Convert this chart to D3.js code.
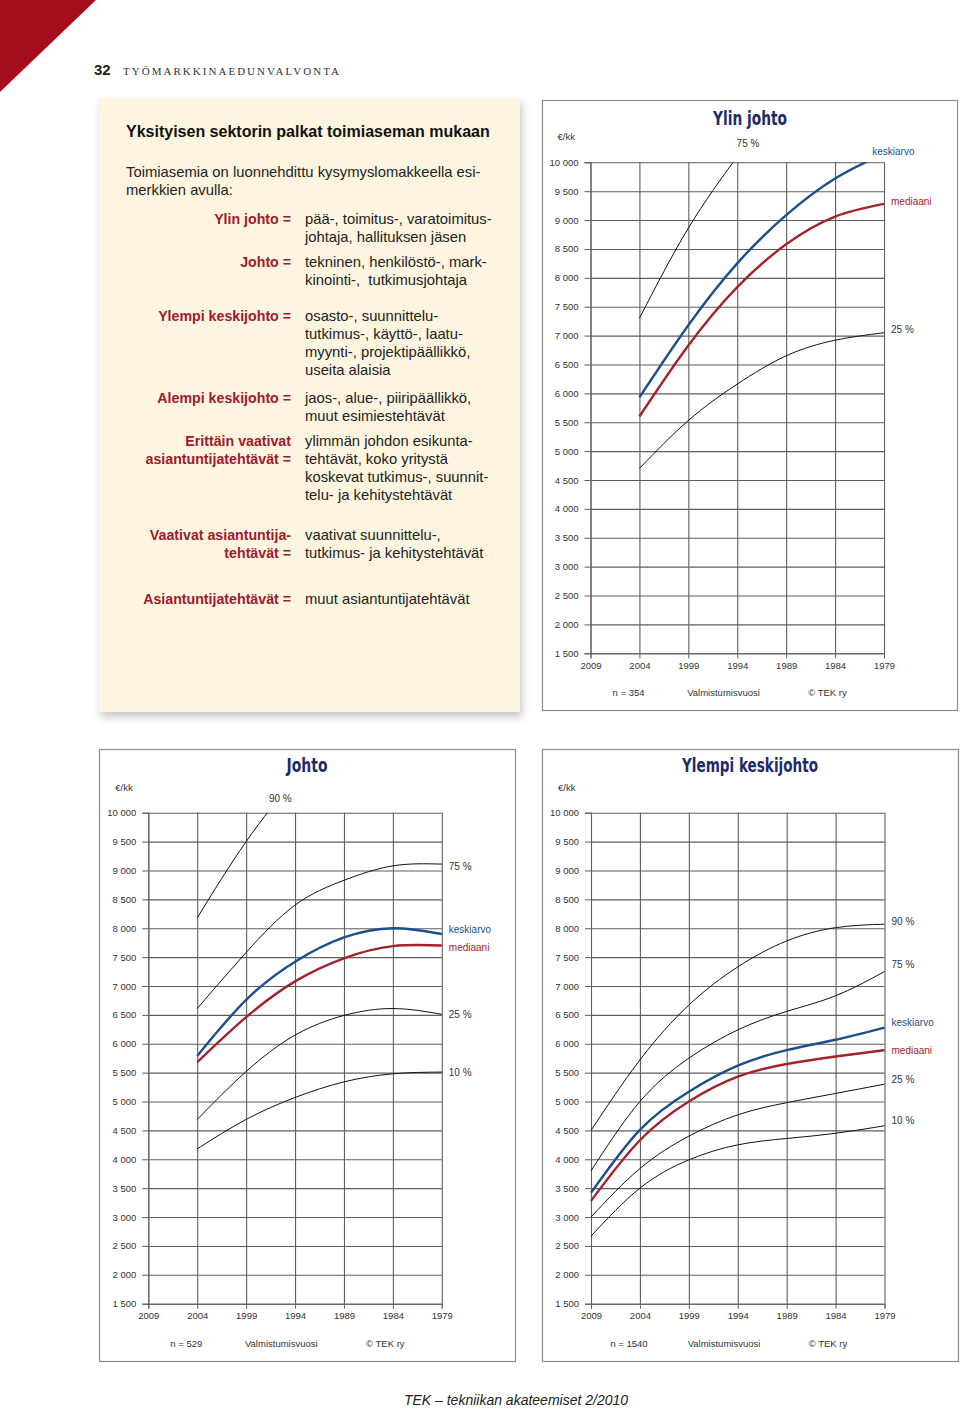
<!DOCTYPE html>
<html>
<head>
<meta charset="utf-8">
<script src="https://cdn.jsdelivr.net/npm/d3@7"></script>
<style>
  body { margin: 0; background: #fff; }
  svg { display: block; }
</style>
</head>
<body>
<script>
// ---- data ----
var years = [2009, 2004, 1999, 1994, 1989, 1984, 1979];
var yTicks = d3.range(1500, 10001, 500);

// Ylin johto, n = 354
var ylinP75 = [null, 7300, 8860, 10100, null, null, null];
var ylinKa  = [null, 5930, 7180, 8250, 9085, 9720, 10150];
var ylinMed = [null, 5600, 6830, 7840, 8580, 9060, 9280];
var ylinP25 = [null, 4700, 5530, 6160, 6650, 6920, 7050];

// Johto, n = 529
var johtoP90 = [null, 8180, 9500, 10600, null, null, null];
var johtoP75 = [null, 6610, 7580, 8400, 8830, 9080, 9110];
var johtoKa  = [null, 5790, 6760, 7420, 7840, 8000, 7900];
var johtoMed = [null, 5680, 6460, 7080, 7480, 7690, 7700];
var johtoP25 = [null, 4690, 5520, 6150, 6490, 6610, 6510];
var johtoP10 = [null, 4180, 4690, 5070, 5340, 5480, 5510];

// Ylempi keskijohto, n = 1540
var ykjP90 = [4500, 5720, 6670, 7330, 7780, 8010, 8070];
var ykjP75 = [3800, 5000, 5750, 6240, 6560, 6830, 7250];
var ykjKa  = [3420, 4510, 5170, 5620, 5890, 6070, 6280];
var ykjMed = [3280, 4330, 5000, 5430, 5650, 5780, 5890];
var ykjP25 = [3000, 3840, 4400, 4770, 4980, 5140, 5300];
var ykjP10 = [2670, 3500, 3990, 4250, 4360, 4450, 4580];

// label anchors [text, year, value]; year null = right of the plot
var ylinLabels = [["75 %", 1992.9, 10257], ["keskiarvo", 1980.2, 10135],
                  ["mediaani", null, 9267], ["25 %", null, 7045]];
var johtoLabels = [["90 %", 1995.5, 10177], ["75 %", null, 9000], ["keskiarvo", null, 7909],
                   ["mediaani", null, 7597], ["25 %", null, 6454], ["10 %", null, 5433]];
var ykjLabels = [["90 %", null, 8064], ["75 %", null, 7308], ["keskiarvo", null, 6299],
                 ["mediaani", null, 5831], ["25 %", null, 5317], ["10 %", null, 4619]];

var BLUE = "#1d4f8e", RED = "#a3232a", NAVY = "#1f2a6a", MAROON = "#a0192d";
var sans = "'Liberation Sans', Arial, sans-serif";

var svg = d3.select("body").append("svg")
    .attr("width", 960).attr("height", 1410)
    .style("font-family", sans);

var defs = svg.append("defs");
var shadow = defs.append("filter").attr("id", "shadow")
    .attr("x", "-5%").attr("y", "-5%").attr("width", "115%").attr("height", "115%");
shadow.append("feDropShadow").attr("dx", 2).attr("dy", 5).attr("stdDeviation", 4)
    .attr("flood-color", "#000").attr("flood-opacity", 0.22);

// page corner + header
svg.append("path").attr("d", "M0,0L96,0L0,92Z").attr("fill", "#a50d1f");
svg.append("text").attr("x", 94).attr("y", 75).attr("font-size", 15)
    .attr("font-weight", "bold").attr("fill", "#222").text("32");
svg.append("text").attr("x", 123).attr("y", 75).attr("font-size", 11)
    .attr("font-family", "'Liberation Serif', serif").attr("fill", "#333")
    .attr("textLength", 216).attr("lengthAdjust", "spacing")
    .text("TYÖMARKKINAEDUNVALVONTA");

// ---- text box ----
svg.append("rect").attr("x", 99).attr("y", 98).attr("width", 421).attr("height", 614)
    .attr("fill", "#fdf5e0").attr("filter", "url(#shadow)");
svg.append("text").attr("x", 126).attr("y", 137).attr("font-size", 16)
    .attr("font-weight", "bold").attr("fill", "#111")
    .text("Yksityisen sektorin palkat toimiaseman mukaan");
svg.append("text").attr("x", 126).attr("y", 177).attr("font-size", 14.8).attr("fill", "#222")
    .text("Toimiasemia on luonnehdittu kysymyslomakkeella esi-");
svg.append("text").attr("x", 126).attr("y", 195).attr("font-size", 14.8).attr("fill", "#222")
    .text("merkkien avulla:");

var terms = [
  [["Ylin johto ="], ["pää-, toimitus-, varatoimitus-", "johtaja, hallituksen jäsen"], 219],
  [["Johto ="], ["tekninen, henkilöstö-, mark-", "kinointi-,  tutkimusjohtaja"], 262],
  [["Ylempi keskijohto ="], ["osasto-, suunnittelu-", "tutkimus-, käyttö-, laatu-", "myynti-, projektipäällikkö,", "useita alaisia"], 316],
  [["Alempi keskijohto ="], ["jaos-, alue-, piiripäällikkö,", "muut esimiestehtävät"], 398],
  [["Erittäin vaativat", "asiantuntijatehtävät ="], ["ylimmän johdon esikunta-", "tehtävät, koko yritystä", "koskevat tutkimus-, suunnit-", "telu- ja kehitystehtävät"], 441],
  [["Vaativat asiantuntija-", "tehtävät ="], ["vaativat suunnittelu-,", "tutkimus- ja kehitystehtävät"], 535],
  [["Asiantuntijatehtävät ="], ["muut asiantuntijatehtävät"], 599]
];
terms.forEach(function(t){
  t[0].forEach(function(s, i){
    svg.append("text").attr("x", 291).attr("y", t[2] + 5 + i * 18)
      .attr("text-anchor", "end").attr("font-size", 14.2).attr("font-weight", "bold")
      .attr("fill", MAROON).text(s);
  });
  t[1].forEach(function(s, i){
    svg.append("text").attr("x", 305).attr("y", t[2] + 5 + i * 18)
      .attr("font-size", 14.8).attr("fill", "#222").style("white-space", "pre").text(s);
  });
});

// ---- charts ----
var fmt = function(v){ return d3.format(",")(v).replace(",", " "); };
var W = 293.5, H = 491;

function drawChart(o){
  var x = d3.scaleLinear().domain([2009, 1979]).range([0, W]);
  var y = d3.scaleLinear().domain([1500, 10000]).range([H, 0]);

  svg.append("rect").attr("x", o.px + 0.5).attr("y", o.py + 0.5)
      .attr("width", o.pw).attr("height", o.ph)
      .attr("fill", "#fff").attr("stroke", "#8c8c8c").attr("stroke-width", 1.2);

  svg.append("text").attr("x", o.tx).attr("y", o.ty).attr("text-anchor", "middle")
      .attr("font-family", "'Liberation Sans Narrow', 'DejaVu Sans Condensed', sans-serif")
      .attr("font-weight", "bold").attr("font-size", 20).attr("fill", NAVY)
      .attr("textLength", o.tw).attr("lengthAdjust", "spacingAndGlyphs")
      .text(o.title);

  var g = svg.append("g").attr("transform", "translate(" + o.left + "," + o.top + ")");

  // grid
  g.append("g").attr("class", "grid")
      .call(d3.axisLeft(y).tickValues(yTicks).tickSize(-W).tickFormat(""));
  g.append("g").attr("class", "grid").attr("transform", "translate(0," + H + ")")
      .call(d3.axisBottom(x).tickValues(years).tickSize(-H).tickFormat(""));
  g.selectAll(".grid .domain").remove();
  g.selectAll(".grid line").attr("stroke", "#5e5e5e").attr("stroke-width", 1.1);

  // ticks + labels
  var ya = g.append("g").call(d3.axisLeft(y).tickValues(yTicks).tickSize(6)
      .tickPadding(6).tickFormat(fmt));
  var xa = g.append("g").attr("transform", "translate(0," + H + ")")
      .call(d3.axisBottom(x).tickValues(years).tickSize(5).tickPadding(4).tickFormat(d3.format("d")));
  [ya, xa].forEach(function(a){
    a.select(".domain").attr("stroke", "#5e5e5e");
    a.selectAll("line").attr("stroke", "#5e5e5e");
    a.selectAll("text").attr("font-family", sans).attr("font-size", 9.5).attr("fill", "#333");
  });

  // lines
  var cid = "clip-" + o.id;
  defs.append("clipPath").attr("id", cid).append("rect")
      .attr("x", -1).attr("y", 0).attr("width", W + 2).attr("height", H);
  var line = d3.line()
      .defined(function(d){ return d[1] != null; })
      .x(function(d){ return x(d[0]); })
      .y(function(d){ return y(d[1]); })
      .curve(d3.curveNatural);
  var lg = g.append("g").attr("clip-path", "url(#" + cid + ")");
  o.series.forEach(function(s){
    var pts = years.map(function(yr, i){ return [yr, s.values[i]]; });
    lg.append("path").datum(pts).attr("d", line).attr("fill", "none")
      .attr("stroke", s.color).attr("stroke-width", s.width);
  });

  // series labels
  o.labels.forEach(function(l){
    var c = l[0] === "keskiarvo" ? BLUE : (l[0] === "mediaani" ? RED : "#333");
    g.append("text")
      .attr("x", l[1] == null ? W + 7 : x(l[1]))
      .attr("y", y(l[2]))
      .attr("text-anchor", l[1] == null || l[0] === "keskiarvo" ? "start" : "middle")
      .attr("font-size", 10).attr("fill", c).text(l[0]);
  });

  // unit + footer
  g.append("text").attr("x", -33).attr("y", -22).attr("font-size", 9.5)
      .attr("fill", "#333").text("€/kk");
  [["n = " + o.n, 38], ["Valmistumisvuosi", 133], ["© TEK ry", 237]].forEach(function(f){
    g.append("text").attr("x", f[1]).attr("y", H + 43).attr("text-anchor", "middle")
      .attr("font-size", 9.5).attr("fill", "#333").text(f[0]);
  });
}

drawChart({
  id: "ylin", title: "Ylin johto", tx: 750, ty: 125, tw: 74, n: 354,
  px: 542, py: 100, pw: 415, ph: 610, left: 590.5, top: 162.3,
  series: [
    {values: ylinP75, color: "#111", width: 1},
    {values: ylinP25, color: "#111", width: 1},
    {values: ylinMed, color: RED, width: 2.4},
    {values: ylinKa, color: BLUE, width: 2.4}
  ],
  labels: ylinLabels
});

drawChart({
  id: "johto", title: "Johto", tx: 307, ty: 772, tw: 41, n: 529,
  px: 99, py: 749, pw: 416, ph: 612, left: 148.3, top: 812.7,
  series: [
    {values: johtoP90, color: "#111", width: 1},
    {values: johtoP75, color: "#111", width: 1},
    {values: johtoP25, color: "#111", width: 1},
    {values: johtoP10, color: "#111", width: 1},
    {values: johtoMed, color: RED, width: 2.4},
    {values: johtoKa, color: BLUE, width: 2.4}
  ],
  labels: johtoLabels
});

drawChart({
  id: "ykj", title: "Ylempi keskijohto", tx: 750, ty: 772, tw: 136, n: 1540,
  px: 542, py: 749, pw: 416, ph: 612, left: 591, top: 812.7,
  series: [
    {values: ykjP90, color: "#111", width: 1},
    {values: ykjP75, color: "#111", width: 1},
    {values: ykjP25, color: "#111", width: 1},
    {values: ykjP10, color: "#111", width: 1},
    {values: ykjMed, color: RED, width: 2.4},
    {values: ykjKa, color: BLUE, width: 2.4}
  ],
  labels: ykjLabels
});

// page footer
svg.append("text").attr("x", 516).attr("y", 1405).attr("text-anchor", "middle")
    .attr("font-size", 14).attr("font-style", "italic").attr("fill", "#222")
    .text("TEK – tekniikan akateemiset 2/2010");
</script>
</body>
</html>
